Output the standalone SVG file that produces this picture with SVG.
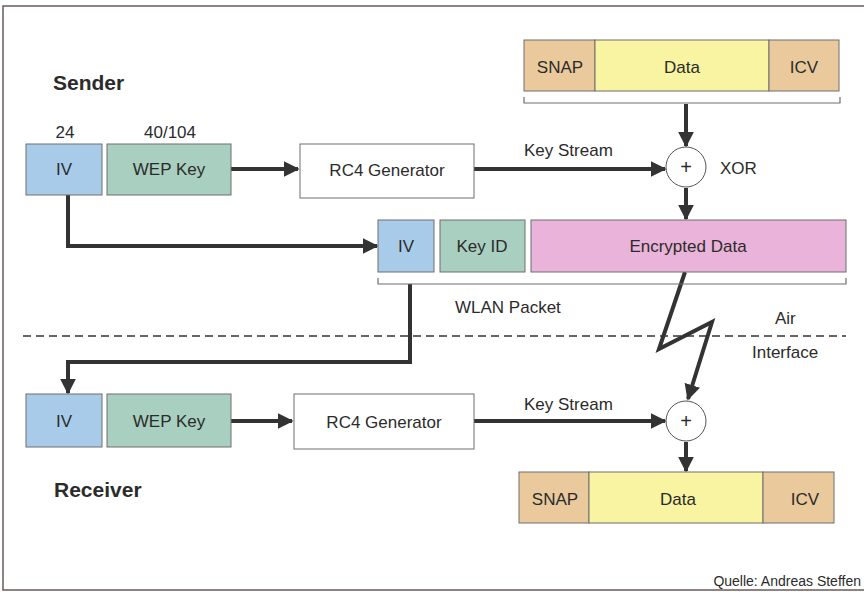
<svg xmlns="http://www.w3.org/2000/svg" width="864" height="592" viewBox="0 0 864 592">
<style>
text{font-family:"Liberation Sans",Arial,sans-serif;fill:#2b2b2b;font-size:17px}
.c{text-anchor:middle}
.b{font-weight:bold;font-size:21px}
.box{stroke:#6e6e6e;stroke-width:1}
.iv{fill:#a9cbea}
.wep{fill:#a9cfc0}
.snap{fill:#eac99c}
.dat{fill:#f8f4a2}
.enc{fill:#e9b3da}
.w{fill:#fff}
.ln{fill:none;stroke:#333;stroke-width:4}
.br{fill:none;stroke:#6e6e6e;stroke-width:1.2}
</style>
<defs>
<marker id="ah" viewBox="0 0 10 10" refX="9" refY="5" markerWidth="4" markerHeight="4" orient="auto" markerUnits="strokeWidth">
<path d="M0,0 L10,5 L0,10 z" fill="#333"/>
</marker>
</defs>
<rect x="3" y="6" width="870" height="584" fill="#fff" stroke="#6b5a5a" stroke-width="1.5"/>
<line x1="23" y1="336" x2="846" y2="336" stroke="#333" stroke-width="1.5" stroke-dasharray="8,5"/>

<text x="53" y="90" class="b">Sender</text>
<text x="54" y="497" class="b">Receiver</text>
<text x="65" y="138" class="c">24</text>
<text x="170" y="138" class="c">40/104</text>
<text x="524" y="156">Key Stream</text>
<text x="720" y="174">XOR</text>
<text x="455" y="313">WLAN Packet</text>
<text x="775" y="324">Air</text>
<text x="752" y="358">Interface</text>
<text x="524" y="410">Key Stream</text>
<text x="861" y="586" style="font-size:14px;text-anchor:end">Quelle: Andreas Steffen</text>

<g id="connectors">
<line class="ln" x1="231" y1="169" x2="298" y2="169" marker-end="url(#ah)"/>
<line class="ln" x1="474" y1="169" x2="665" y2="169" marker-end="url(#ah)"/>
<line class="ln" x1="686" y1="104" x2="686" y2="146" marker-end="url(#ah)"/>
<line class="ln" x1="686" y1="188" x2="686" y2="219" marker-end="url(#ah)"/>
<polyline class="ln" points="68,195 68,246 377,246" marker-end="url(#ah)"/>
<polyline class="ln" points="410,284 410,362 68,362 68,393" marker-end="url(#ah)"/>
<line class="ln" x1="231" y1="421" x2="292" y2="421" marker-end="url(#ah)"/>
<line class="ln" x1="474" y1="421" x2="665" y2="421" marker-end="url(#ah)"/>
<polyline class="ln" points="685,272 659,349 712,322 688,399" marker-end="url(#ah)" stroke-linejoin="miter"/>
<line class="ln" x1="686" y1="442" x2="686" y2="471" marker-end="url(#ah)"/>
</g>

<g id="sender-iv"><rect class="box iv" x="26" y="144" width="76" height="51"/><text x="64" y="175" class="c">IV</text></g>
<g id="sender-wep"><rect class="box wep" x="107" y="144" width="124" height="51"/><text x="169" y="175" class="c">WEP Key</text></g>
<g id="sender-rc4"><rect class="box w" x="300" y="144" width="174" height="54"/><text x="387" y="176" class="c">RC4 Generator</text></g>
<g id="sender-xor"><circle cx="686" cy="167" r="20" fill="#fff" stroke="#555" stroke-width="1"/><text x="686" y="174" class="c" style="font-size:20px">+</text></g>
<g id="sender-frame">
<rect class="box snap" x="524" y="40" width="71" height="51"/><text x="560" y="73" class="c">SNAP</text>
<rect class="box dat" x="595" y="40" width="174" height="51"/><text x="682" y="73" class="c">Data</text>
<rect class="box snap" x="769" y="40" width="70" height="51"/><text x="804" y="73" class="c">ICV</text>
<polyline class="br" points="524,97 524,103 840,103 840,97"/>
</g>
<g id="packet">
<rect class="box iv" x="378" y="220" width="56" height="52"/><text x="406" y="252" class="c">IV</text>
<rect class="box wep" x="440" y="220" width="85" height="52"/><text x="482" y="252" class="c">Key ID</text>
<rect class="box enc" x="531" y="220" width="315" height="52"/><text x="688" y="252" class="c">Encrypted Data</text>
<polyline class="br" points="378,278 378,284 846,284 846,278"/>
</g>
<g id="receiver-iv"><rect class="box iv" x="26" y="394" width="76" height="53"/><text x="64" y="427" class="c">IV</text></g>
<g id="receiver-wep"><rect class="box wep" x="107" y="394" width="124" height="53"/><text x="169" y="427" class="c">WEP Key</text></g>
<g id="receiver-rc4"><rect class="box w" x="294" y="394" width="180" height="55"/><text x="384" y="428" class="c">RC4 Generator</text></g>
<g id="receiver-xor"><circle cx="686" cy="421" r="20" fill="#fff" stroke="#555" stroke-width="1"/><text x="686" y="428" class="c" style="font-size:20px">+</text></g>
<g id="receiver-frame">
<rect class="box snap" x="519" y="472" width="70" height="51"/><text x="555" y="505" class="c">SNAP</text>
<rect class="box dat" x="589" y="472" width="174" height="51"/><text x="678" y="505" class="c">Data</text>
<rect class="box snap" x="763" y="472" width="71" height="51"/><text x="805" y="505" class="c">ICV</text>
</g>
</svg>
